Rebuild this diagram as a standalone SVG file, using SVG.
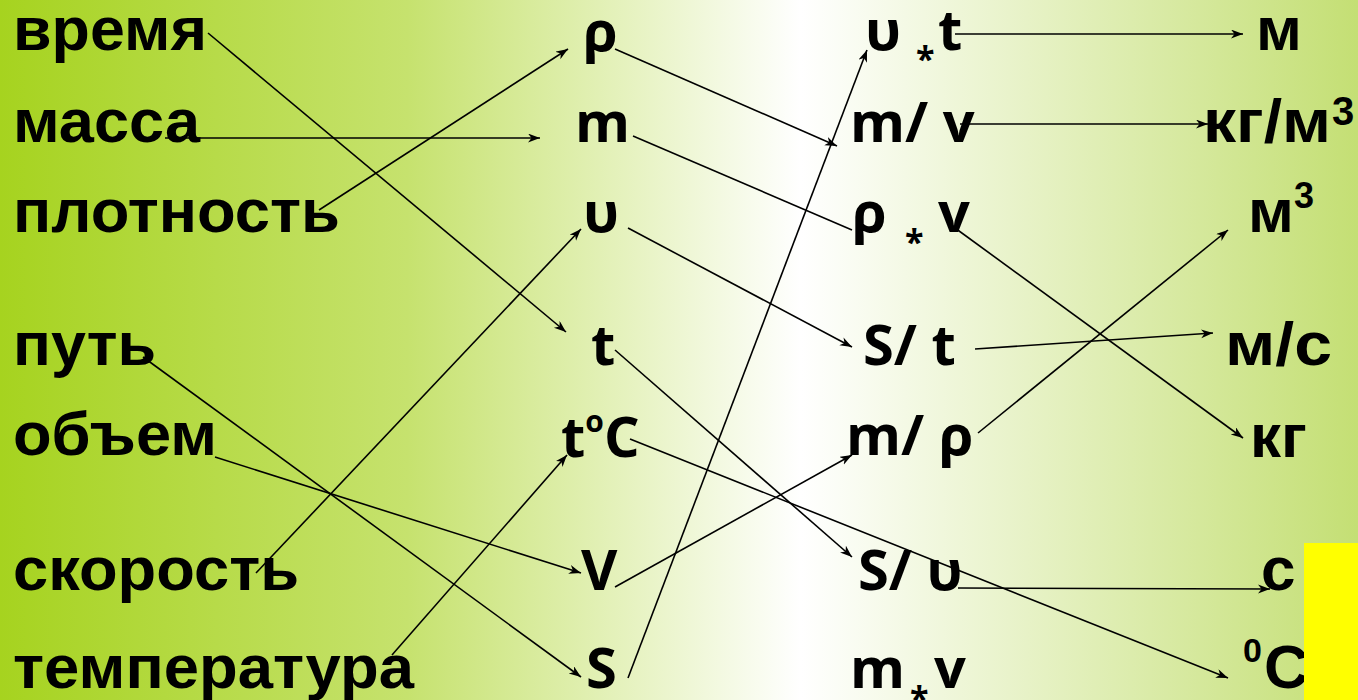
<svg xmlns="http://www.w3.org/2000/svg" width="1358" height="700" viewBox="0 0 1358 700">
<defs>
<linearGradient id="bg" x1="0" y1="0" x2="1" y2="0">
<stop offset="0" stop-color="#a6d31f"/>
<stop offset="0.3" stop-color="#c6e26e"/>
<stop offset="0.59" stop-color="#ffffff"/>
<stop offset="1" stop-color="#c4df74"/>
</linearGradient>
<marker id="ah" markerUnits="userSpaceOnUse" markerWidth="14" markerHeight="10" refX="12" refY="4.5" orient="auto">
<path d="M0,0 L12,4.5 L0,9 L3.5,4.5 z" fill="#000"/>
</marker>
<style>
.w{font-family:"Liberation Sans",Arial,sans-serif;font-weight:bold;font-size:62px;fill:#000}
.s{font-family:"Open Sans","DejaVu Sans",sans-serif;font-weight:bold;font-size:56px;fill:#000}
.u{font-family:"Liberation Sans",Arial,sans-serif;font-weight:bold;font-size:62px;fill:#000}
.c line{stroke:#000;stroke-width:1.6}
.c .a{marker-end:url(#ah)}
</style>
</defs>
<rect x="0" y="0" width="1358" height="700" fill="url(#bg)"/>

<g id="words">
<text id="w1" class="w" x="13" y="50" textLength="194" lengthAdjust="spacingAndGlyphs">время</text>
<text id="w2" class="w" x="13" y="142" textLength="187" lengthAdjust="spacingAndGlyphs">масса</text>
<text id="w3" class="w" x="13" y="232" textLength="327" lengthAdjust="spacingAndGlyphs">плотность</text>
<text id="w4" class="w" x="13" y="365" textLength="143" lengthAdjust="spacingAndGlyphs">путь</text>
<text id="w5" class="w" x="13" y="455" textLength="204" lengthAdjust="spacingAndGlyphs">объем</text>
<text id="w6" class="w" x="13" y="590" textLength="286" lengthAdjust="spacingAndGlyphs">скорость</text>
<text id="w7" class="w" x="13" y="688" textLength="401" lengthAdjust="spacingAndGlyphs">температура</text>
</g>

<g id="symbols">
<text id="s1" class="s" x="583" y="51">ρ</text>
<text id="s2" class="s" x="575" y="142">m</text>
<text id="s3" class="s" x="583" y="232">υ</text>
<text id="s4" class="s" x="591" y="365">t</text>
<text id="s5" class="s" x="561" y="457">t<tspan font-size="30" dy="-25">o</tspan><tspan dy="25">C</tspan></text>
<text id="s6" class="s" x="581" y="590">V</text>
<text id="s7" class="s" x="586" y="688">S</text>
</g>

<g id="formulas">
<text id="f1" class="s" y="50"><tspan x="865">υ</tspan><tspan x="916" y="71" font-size="34">*</tspan><tspan x="938" y="50">t</tspan></text>
<text id="f2" class="s" x="850" y="142">m/ v</text>
<text id="f3" class="s" y="232"><tspan x="852">ρ</tspan><tspan x="905" y="254" font-size="34">*</tspan><tspan x="938" y="232">v</tspan></text>
<text id="f4" class="s" x="863" y="365">S/ t</text>
<text id="f5" class="s" x="846" y="455">m/ ρ</text>
<text id="f6" class="s" x="858" y="590">S/ υ</text>
<text id="f7" class="s" y="688"><tspan x="850">m</tspan><tspan x="910" y="711" font-size="34">*</tspan><tspan x="934" y="688">v</tspan></text>
</g>

<g id="units">
<text id="u1" class="u" x="1256" y="50">м</text>
<text id="u2" class="u" y="142"><tspan x="1203" textLength="128" lengthAdjust="spacingAndGlyphs">кг/м</tspan><tspan x="1332" y="125" font-size="40">3</tspan></text>
<text id="u3" class="u" x="1248" y="232">м<tspan font-size="36" dy="-24">3</tspan></text>
<text id="u4" class="u" x="1225" y="365" textLength="107" lengthAdjust="spacingAndGlyphs">м/с</text>
<text id="u5" class="u" x="1250" y="457">кг</text>
<text id="u6" class="u" x="1261" y="590">с</text>
<text id="u7" class="u" y="688"><tspan x="1243" y="662" font-size="34">0</tspan><tspan x="1264" y="688">С</tspan></text>
</g>

<g id="connectors" class="c">
<line class="a" x1="208" y1="33" x2="566" y2="332"/>
<line class="a" x1="165" y1="138" x2="540" y2="138"/>
<line class="a" x1="319" y1="210" x2="568" y2="49"/>
<line class="a" x1="143" y1="357" x2="581" y2="677"/>
<line class="a" x1="215" y1="457" x2="581" y2="573"/>
<line class="a" x1="256" y1="573" x2="581" y2="229"/>
<line class="a" x1="392" y1="655" x2="567" y2="455"/>
<line class="a" x1="615" y1="49" x2="837" y2="146"/>
<line x1="633" y1="136" x2="852" y2="230"/>
<line class="a" x1="628" y1="228" x2="852" y2="347"/>
<line class="a" x1="615" y1="350" x2="852" y2="557"/>
<line class="a" x1="630" y1="439" x2="1228" y2="678"/>
<line class="a" x1="615" y1="587" x2="852" y2="455"/>
<line class="a" x1="628" y1="678" x2="867" y2="50"/>
<line class="a" x1="955" y1="34" x2="1243" y2="34"/>
<line class="a" x1="960" y1="124" x2="1208" y2="124"/>
<line class="a" x1="955" y1="228" x2="1243" y2="438"/>
<line class="a" x1="975" y1="349" x2="1213" y2="333"/>
<line class="a" x1="978" y1="433" x2="1228" y2="230"/>
<line class="a" x1="958" y1="588" x2="1270" y2="589"/>
</g>

<rect id="yellow" x="1304" y="543" width="54" height="157" fill="#ffff00"/>
</svg>
